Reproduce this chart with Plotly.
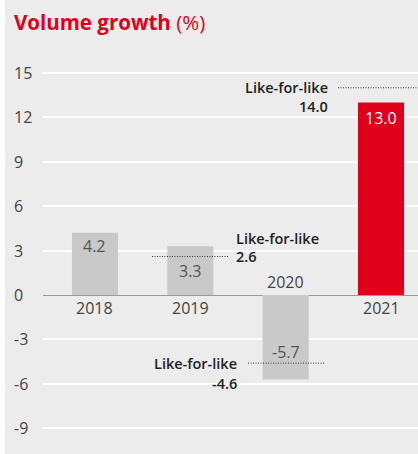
import plotly.graph_objects as go

years = ["2018", "2019", "2020", "2021"]
volume = [4.2, 3.3, -5.7, 13.0]
lfl = [None, 2.6, -4.6, 14.0]
bar_colors = ["#c8c9c8", "#c8c9c8", "#c8c9c8", "#e0001b"]
ytick_vals = [-9, -6, -3, 0, 3, 6, 9, 12, 15]
ytick_text = ["-9", "-6", "-3", "0", "3", "6", "9", "12", "15"]

W, H = 418, 454
ML = 43
PW = W - ML
FONT = "Open Sans"
xpos = list(range(len(years)))

fig = go.Figure()
fig.add_trace(go.Bar(
    x=xpos, y=volume, width=0.483,
    marker=dict(color=bar_colors, line=dict(width=0)),
    hoverinfo="skip",
))

ann = []
shapes = []

# white strip on left
shapes.append(dict(type="rect", xref="paper", yref="paper",
                   x0=-ML / PW, x1=-(ML - 5) / PW, y0=0, y1=1,
                   fillcolor="white", line=dict(width=0), layer="above"))

# title
ann.append(dict(xref="paper", yref="paper", x=-(ML - 12) / PW, y=1 - 22 / H,
                xanchor="left", yanchor="middle", showarrow=False,
                text="<b>Volume growth</b> (%)",
                font=dict(family=FONT, size=20.5, color="#e0001b")))

# y tick labels (left aligned)
for v, t in zip(ytick_vals, ytick_text):
    ann.append(dict(xref="paper", yref="y", x=-(ML - 12) / PW, y=v,
                    xanchor="left", yanchor="middle", showarrow=False, text=t,
                    font=dict(family=FONT, size=16, color="#444")))

# year labels
for i, (yr, v) in enumerate(zip(years, volume)):
    shift = 13 if v < 0 else -13
    ann.append(dict(x=i, y=0, yshift=shift, text=yr, showarrow=False,
                    xanchor="center", yanchor="middle",
                    font=dict(family=FONT, size=16, color="#444")))

# value labels
val_shift = [-13, -25, 27, -15]
for i, v in enumerate(volume):
    col = "white" if i == 3 else "#555"
    ann.append(dict(x=i, y=v, yshift=val_shift[i], text=f"{v:.1f}",
                    showarrow=False, xanchor="center", yanchor="middle",
                    font=dict(family=FONT, size=16, color=col)))

lfl_font = dict(family=FONT, size=14.5, color="#222", weight=600)
dot = dict(color="#333", width=1, dash="1px,1.5px")

# 2019 like-for-like
v = lfl[1]
shapes.append(dict(type="line", xref="x", yref="y", x0=0.598, x1=1.406, y0=v, y1=v, line=dot))
ann.append(dict(x=1.458, y=v, text=f"{v:.1f}", xanchor="left", yanchor="middle",
                showarrow=False, font=lfl_font))
ann.append(dict(x=1.458, y=v, yshift=18.5, text="Like-for-like", xanchor="left",
                yanchor="middle", showarrow=False, font=lfl_font))

# 2020 like-for-like
v = lfl[2]
shapes.append(dict(type="line", xref="x", yref="y", x0=1.605, x1=2.413, y0=v, y1=v, line=dot))
ann.append(dict(x=1.511, y=v, text="Like-for-like", xanchor="right", yanchor="middle",
                showarrow=False, font=lfl_font))
ann.append(dict(x=1.511, y=v, yshift=-20, text=f"{v:.1f}", xanchor="right",
                yanchor="middle", showarrow=False, font=lfl_font))

# 2021 like-for-like
v = lfl[3]
shapes.append(dict(type="line", xref="x", yref="y", x0=2.549, x1=3.388, y0=v, y1=v, line=dot))
ann.append(dict(x=2.465, y=v, text="Like-for-like", xanchor="right", yanchor="middle",
                showarrow=False, font=lfl_font))
ann.append(dict(x=2.465, y=v, yshift=-19, text=f"{v:.1f}", xanchor="right",
                yanchor="middle", showarrow=False, font=lfl_font))

fig.update_layout(
    width=W, height=H,
    margin=dict(l=ML, r=0, t=0, b=0),
    paper_bgcolor="#ececec", plot_bgcolor="#ececec",
    showlegend=False,
    xaxis=dict(range=[-0.545, 3.388], showgrid=False, zeroline=False,
               showticklabels=False, ticks="", fixedrange=True),
    yaxis=dict(range=[-10.74, 19.93], tickvals=ytick_vals, showticklabels=False,
               showgrid=True, gridcolor="white", gridwidth=1.5,
               zeroline=True, zerolinecolor="#9a9a9a", zerolinewidth=1.2,
               ticks="", fixedrange=True),
    annotations=ann, shapes=shapes,
    font=dict(family=FONT),
)

fig.write_html("out.html", config={"displayModeBar": False},
               post_script="document.body.style.margin='0';document.body.style.padding='0';")
